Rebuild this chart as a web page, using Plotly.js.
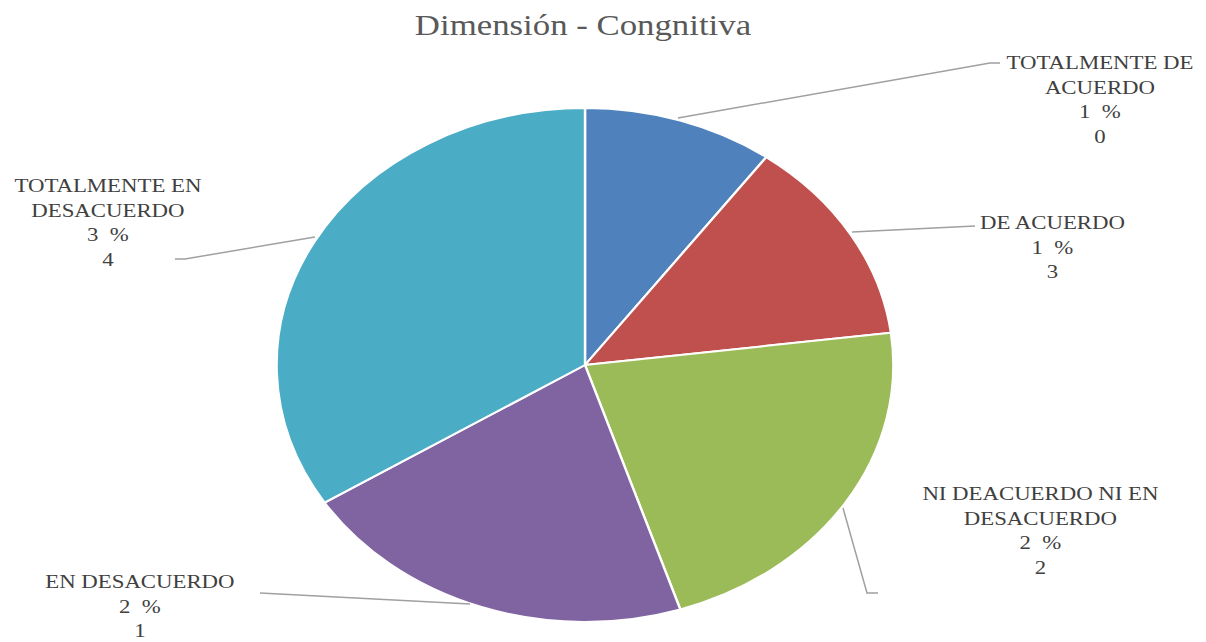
<!DOCTYPE html>
<html>
<head>
<meta charset="utf-8">
<script src="https://cdn.plot.ly/plotly-3.0.1.min.js"></script>
<style>
  html, body { margin: 0; padding: 0; background: #fff; overflow: hidden; font-family: 'Liberation Serif', serif; }
  #chart { width: 1206px; height: 642px; }
</style>
</head>
<body>
<div id="chart"></div>
<script>
// ---- data ----
const categories = ["TOTALMENTE DE ACUERDO", "DE ACUERDO", "NI DEACUERDO NI EN DESACUERDO", "EN DESACUERDO", "TOTALMENTE EN DESACUERDO"];
const values = [10, 13, 22, 21, 34];
const colors = ["#4F81BD", "#C0504D", "#9BBB59", "#8064A2", "#4BACC6"];
const chartTitle = "Dimensión - Congnitiva";

// ---- layout helpers (pixel space 1206 x 642) ----
const W = 1206, H = 642;
const STRETCH = 1.2;   // the reference is stretched horizontally
const px = x => x / W;
const py = y => 1 - y / H;
const SERIF = "Liberation Serif";

function wrap(s, max) {
  const words = s.split(" ");
  const lines = [];
  let cur = "";
  words.forEach(w => {
    if (cur && (cur + " " + w).length > max) { lines.push(cur); cur = w; }
    else cur = cur ? cur + " " + w : w;
  });
  if (cur) lines.push(cur);
  return lines.join("<br>");
}
function labelText(name, v) {
  const d = String(v);
  return wrap(name, 18) + "<br>" + d[0] + "\u00a0\u00a0%<br>" + d[1];
}

// label anchor positions (center x, top y) and leader lines, in px
const labelPos = [[1100, 50], [1052, 210], [1040, 481], [140, 569], [108, 173]];
const leaders = [
  [[678, 118], [990, 63], [1000, 63]],
  [[852, 232], [975, 226]],
  [[843, 508], [867, 593], [878, 593]],
  [[470, 604], [260, 593]],
  [[315, 237], [185, 259], [175, 259]]
];

const cx = 585, cy = 365, r = 257;

const trace = {
  type: "pie",
  labels: categories,
  values: values,
  sort: false,
  direction: "clockwise",
  rotation: 0,
  textinfo: "none",
  hoverinfo: "label+percent",
  marker: { colors: colors, line: { color: "#ffffff", width: 2 } },
  domain: { x: [px(cx - r), px(cx + r)], y: [py(cy + r), py(cy - r)] },
  showlegend: false
};

const annotations = categories.map((c, i) => ({
  text: labelText(c, values[i]),
  xref: "paper", yref: "paper",
  x: px(labelPos[i][0]), y: py(labelPos[i][1]),
  xanchor: "center", yanchor: "top", align: "center",
  showarrow: false,
  font: { family: SERIF, size: 19, color: "#404040" }
}));

const shapes = leaders.map(pts => ({
  type: "path",
  xref: "paper", yref: "paper",
  path: pts.map((p, k) => (k ? "L" : "M") + px(p[0]) + "," + py(p[1])).join(" "),
  line: { color: "#A0A0A0", width: 1.5 }
}));

const layout = {
  width: W, height: H,
  margin: { l: 0, r: 0, t: 0, b: 0 },
  paper_bgcolor: "#ffffff",
  plot_bgcolor: "#ffffff",
  font: { family: SERIF },
  title: {
    text: chartTitle,
    x: px(583), xanchor: "center",
    y: 1 - 25 / H, yref: "container", yanchor: "middle",
    font: { family: SERIF, size: 29, color: "#595959" }
  },
  annotations: annotations,
  shapes: shapes,
  showlegend: false
};

const gd = document.getElementById("chart");
function draw() {
  Plotly.newPlot(gd, [trace], layout, { displayModeBar: false }).then(() => {
    const c0 = gd.calcdata[0][0];
    const pl = gd.querySelector(".pielayer");
    if (pl) pl.setAttribute("transform", `translate(${c0.cx},0) scale(${STRETCH},1) translate(${-c0.cx},0)`);
    gd.querySelectorAll(".annotation-text, .gtitle").forEach(t => {
      const b = t.getBBox();
      const m = b.x + b.width / 2;
      const prev = t.getAttribute("transform") || "";
      t.setAttribute("transform", `${prev} translate(${m},0) scale(${STRETCH},1) translate(${-m},0)`);
    });
  });
}
if (document.fonts && document.fonts.load) {
  Promise.all([
    document.fonts.load('19px "Liberation Serif"', "TOTALMENTE"),
    document.fonts.load('29px "Liberation Serif"', "Dimensión")
  ]).then(draw, draw);
} else {
  draw();
}
</script>
</body>
</html>
